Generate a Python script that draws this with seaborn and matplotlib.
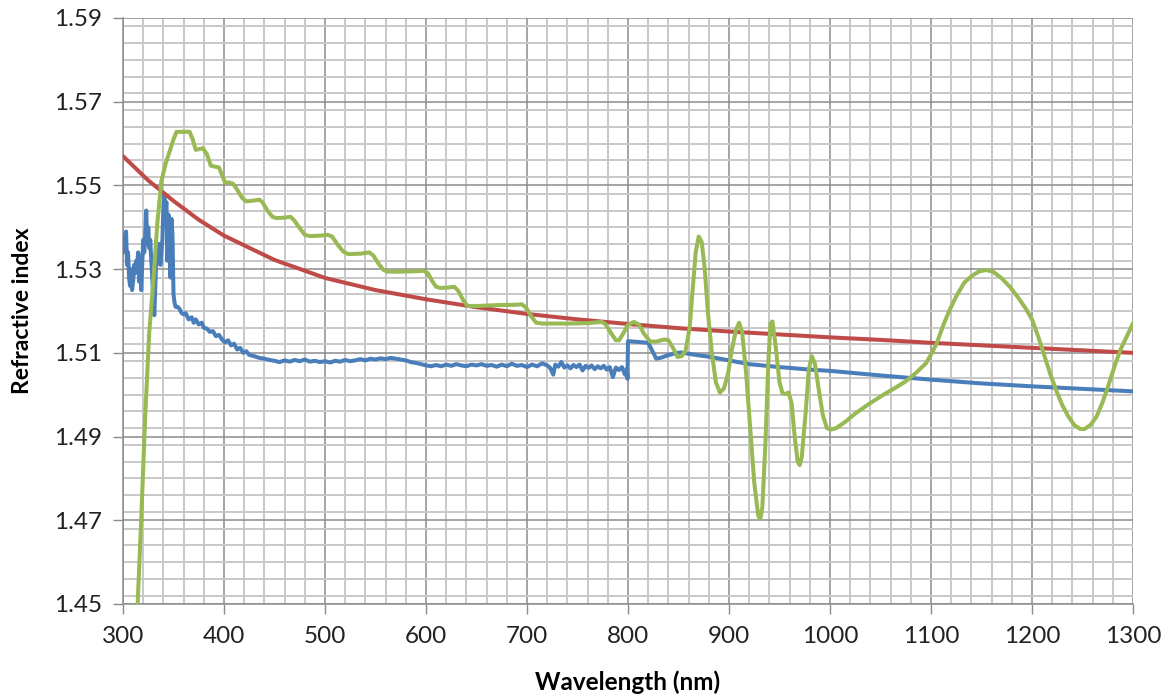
import numpy as np
import pandas as pd
import matplotlib
matplotlib.use("Agg")
import matplotlib.pyplot as plt
import seaborn as sns
from matplotlib.ticker import MultipleLocator

# ---------------- data ----------------
red_wl = [300, 325, 350, 375, 400, 450, 500, 550, 600, 650, 700, 750, 800,
          850, 900, 950, 1000, 1050, 1100, 1150, 1200, 1250, 1300]
red_n = [1.5570, 1.5512, 1.5463, 1.5418, 1.5380, 1.5322, 1.5279, 1.5250, 1.5228,
         1.5209, 1.5193, 1.5180, 1.5169, 1.5159, 1.5151, 1.5144, 1.5137, 1.5131,
         1.5124, 1.5118, 1.5112, 1.5106, 1.5100]

blue_wl = [300, 301, 302, 303, 304, 305, 306, 307, 308, 309, 310, 311, 312, 313, 314,
           315, 316, 317, 318, 319, 320, 321, 322, 323, 324, 325, 326, 327, 328, 329,
           330, 331, 332, 333, 334, 335, 336, 337, 338, 339, 340, 341, 342, 343, 344,
           345, 346, 347, 348, 349, 350, 351, 352, 354, 356, 358, 360,
           362, 365, 368, 370, 372, 375, 378, 380, 383, 386, 389, 392, 395, 398,
           401, 404, 407, 410, 413, 416, 419, 422, 425, 430, 435, 440, 445, 450,
           455, 460, 465, 470, 475, 480, 485, 490, 495, 500, 505, 510, 515, 520,
           525, 530, 535, 540, 545, 550, 555, 560, 565, 570, 575, 580, 585, 590,
           595, 600, 605, 610, 615, 620, 625, 630, 635, 640, 645, 650, 655, 660,
           665, 670, 675, 680, 685, 690, 695, 700, 705, 710, 715, 720, 723, 726,
           728, 731, 734, 737, 740, 743, 746, 749, 752, 755, 758, 761, 764, 767,
           770, 773, 776, 779, 782, 785, 788, 791, 794, 797, 799, 799.5, 800,
           805, 810, 815, 820, 824, 828, 832, 838, 845, 852, 860, 870, 880, 900,
           920, 950, 980, 1000, 1050, 1100, 1150, 1200, 1250, 1300]
blue_n = [1.534, 1.538, 1.535, 1.539, 1.531, 1.534, 1.528, 1.526, 1.530, 1.525,
          1.527, 1.531, 1.529, 1.532, 1.531, 1.534, 1.527, 1.533, 1.525, 1.531,
          1.537, 1.534, 1.538, 1.544, 1.536, 1.540, 1.535, 1.537, 1.532, 1.528,
          1.522, 1.519, 1.526, 1.533, 1.536, 1.533, 1.536, 1.531, 1.534, 1.537,
          1.545, 1.548, 1.544, 1.546, 1.532, 1.543, 1.540, 1.528, 1.542, 1.538,
          1.524, 1.522, 1.521, 1.521, 1.5205, 1.5195, 1.5192,
          1.5195, 1.5180, 1.5185, 1.5172, 1.5180, 1.5168, 1.5172, 1.5160, 1.5158,
          1.5150, 1.5152, 1.5140, 1.5143, 1.5132, 1.5125, 1.5130, 1.5118, 1.5122,
          1.5108, 1.5112, 1.5100, 1.5104, 1.5095, 1.5092, 1.5088, 1.5086, 1.5083,
          1.5081, 1.5078, 1.5082, 1.5079, 1.5083, 1.5080, 1.5084, 1.5079, 1.5081,
          1.5078, 1.5080, 1.5077, 1.5081, 1.5079, 1.5083, 1.5080, 1.5082, 1.5085,
          1.5082, 1.5086, 1.5084, 1.5087, 1.5085, 1.5088, 1.5086, 1.5084, 1.5082,
          1.5078, 1.5076, 1.5073, 1.5070, 1.5068, 1.5071, 1.5068, 1.5072, 1.5069,
          1.5073, 1.5070, 1.5068, 1.5072, 1.5070, 1.5073, 1.5069, 1.5071, 1.5067,
          1.5072, 1.5068, 1.5074, 1.5069, 1.5071, 1.5066, 1.5072, 1.5068, 1.5075,
          1.5070, 1.5064, 1.5048, 1.5072, 1.5067, 1.5078, 1.5065, 1.5070, 1.5063,
          1.5071, 1.5066, 1.5072, 1.5058, 1.5069, 1.5064, 1.5070, 1.5061, 1.5068,
          1.5063, 1.5069, 1.5060, 1.5066, 1.5042, 1.5065, 1.5059, 1.5066, 1.5048,
          1.5062, 1.5038, 1.5128, 1.5127, 1.5126, 1.5125, 1.5124, 1.5105, 1.5086,
          1.5088, 1.5093, 1.5098, 1.5101, 1.5098, 1.5094, 1.5091, 1.5082, 1.5073,
          1.5066, 1.5060, 1.5057, 1.5046, 1.5036, 1.5027, 1.5020, 1.5014, 1.5008]

green_wl = [314.5, 318, 322, 326, 330, 334, 338, 342, 346, 350, 353, 360, 366, 369,
            372, 376, 379, 383, 387, 391, 395, 398, 401, 405, 409, 413, 418, 422,
            430, 435, 438, 443, 448, 452, 460, 466, 470, 475, 480, 485, 495, 503,
            507, 512, 518, 523, 535, 544, 548, 553, 558, 562, 575, 590, 598, 602,
            606, 610, 614, 622, 628, 632, 637, 641, 650, 670, 690, 695, 699, 704,
            709, 715, 740, 760, 774, 778, 783, 788, 791, 795, 800, 806, 811, 816,
            822, 828, 836, 840, 845, 849, 853, 857, 861, 864, 867, 870, 873, 876,
            879, 883, 887, 891, 895, 899, 903, 907, 910, 913, 917, 921, 925, 929,
            931, 933, 936, 939, 941, 943, 946, 950, 953, 956, 959, 962, 965, 968,
            970, 972, 976, 979, 982, 985, 989, 993, 997, 1001, 1006, 1015, 1025,
            1035, 1045, 1055, 1065, 1075, 1085, 1095, 1101, 1106, 1112, 1118, 1125,
            1133, 1141, 1148, 1155, 1162, 1170, 1178, 1186, 1194, 1200, 1206, 1212,
            1218, 1224, 1230, 1236, 1242, 1248, 1252, 1258, 1264, 1270, 1276, 1282,
            1288, 1294, 1300]
green_n = [1.4500, 1.4700, 1.4950, 1.5150, 1.5270, 1.5410, 1.5510, 1.5550, 1.5580,
           1.5610, 1.5628, 1.5628, 1.5628, 1.5610, 1.5585, 1.5587, 1.5589, 1.5575,
           1.5547, 1.5545, 1.5543, 1.5525, 1.5507, 1.5507, 1.5504, 1.5490, 1.5470,
           1.5462, 1.5464, 1.5466, 1.5460, 1.5440, 1.5425, 1.5422, 1.5423, 1.5425,
           1.5415, 1.5398, 1.5382, 1.5379, 1.5380, 1.5382, 1.5378, 1.5360, 1.5342,
           1.5336, 1.5337, 1.5340, 1.5332, 1.5313, 1.5298, 1.5294, 1.5294, 1.5295,
           1.5296, 1.5290, 1.5272, 1.5258, 1.5255, 1.5256, 1.5258, 1.5248, 1.5225,
           1.5212, 1.5212, 1.5214, 1.5215, 1.5216, 1.5208, 1.5188, 1.5172, 1.5170,
           1.5170, 1.5171, 1.5174, 1.5168, 1.5148, 1.5130, 1.5130, 1.5145, 1.5167,
           1.5174, 1.5167, 1.5145, 1.5127, 1.5127, 1.5132, 1.5130, 1.5110, 1.5090,
           1.5092, 1.5105, 1.5160, 1.5250, 1.5340, 1.5378, 1.5365, 1.5300, 1.5200,
           1.5100, 1.5030, 1.5005, 1.5015, 1.5050, 1.5110, 1.5155, 1.5172, 1.5150,
           1.5050, 1.4920, 1.4790, 1.4710, 1.4703, 1.4730, 1.4880, 1.5080, 1.5170,
           1.5175, 1.5120, 1.5030, 1.5003, 1.5002, 1.5005, 1.4980, 1.4900, 1.4840,
           1.4832, 1.4850, 1.4960, 1.5060, 1.5092, 1.5075, 1.5010, 1.4950, 1.4920,
           1.4917, 1.4920, 1.4935, 1.4955, 1.4972, 1.4988, 1.5003, 1.5017, 1.5032,
           1.5052, 1.5075, 1.5100, 1.5125, 1.5165, 1.5200, 1.5235, 1.5268, 1.5285,
           1.5295, 1.5298, 1.5293, 1.5278, 1.5258, 1.5233, 1.5205, 1.5180, 1.5140,
           1.5095, 1.5050, 1.5010, 1.4975, 1.4948, 1.4927, 1.4918, 1.4918, 1.4928,
           1.4948, 1.4983, 1.5025, 1.5070, 1.5110, 1.5140, 1.5171]

x_ticks = [300, 400, 500, 600, 700, 800, 900, 1000, 1100, 1200, 1300]
y_ticks = [1.45, 1.47, 1.49, 1.51, 1.53, 1.55, 1.57, 1.59]

# ---------------- figure ----------------
sns.set_theme(style="white")
plt.rcParams['font.family'] = ['Lato', 'DejaVu Sans']

fig = plt.figure(figsize=(11.7, 6.98), dpi=100)
ax = fig.add_axes([123 / 1170, 1 - 604 / 698, 1010 / 1170, 586 / 698])

df_blue = pd.DataFrame({"wl": blue_wl, "n": blue_n})
df_red = pd.DataFrame({"wl": red_wl, "n": red_n})
df_green = pd.DataFrame({"wl": green_wl, "n": green_n})

lw = 2.9
sns.lineplot(data=df_blue, x="wl", y="n", ax=ax, color="#4A7EBB", lw=lw, sort=False, zorder=3)
sns.lineplot(data=df_red, x="wl", y="n", ax=ax, color="#BE4B48", lw=lw, sort=False, zorder=4)
sns.lineplot(data=df_green, x="wl", y="n", ax=ax, color="#98B954", lw=lw, sort=False, zorder=5)

ax.set_xlim(300, 1300)
ax.set_ylim(1.45, 1.59)
ax.set_xticks(x_ticks)
ax.set_yticks(y_ticks)
ax.set_xticklabels([str(t) for t in x_ticks])
ax.set_yticklabels([f"{t:.2f}" for t in y_ticks])
ax.xaxis.set_minor_locator(MultipleLocator(20))
ax.yaxis.set_minor_locator(MultipleLocator(0.004))

ax.grid(which="minor", color="#C8C8C8", lw=1.4, zorder=0)
ax.grid(which="major", color="#8C8C8C", lw=1.1, zorder=1)
ax.set_axisbelow(True)

for s in ["top", "right"]:
    ax.spines[s].set_visible(False)
for s in ["left", "bottom"]:
    ax.spines[s].set_color("#8C8C8C")
    ax.spines[s].set_linewidth(1.1)

ax.tick_params(axis="both", which="major", direction="out", length=7, width=1.0,
               color="#8C8C8C", labelsize=17.5, labelcolor="#222222",
               left=True, bottom=True)
ax.tick_params(axis="y", which="major", pad=8)
ax.tick_params(axis="x", which="major", pad=9)
ax.tick_params(axis="both", which="minor", length=0)

ax.set_xlabel("Wavelength (nm)", fontsize=17.5, fontweight="bold", color="black", labelpad=17)
ax.set_ylabel("Refractive index", fontsize=16.5, fontweight="bold", color="black", labelpad=15)

fig.savefig("out.png", dpi=100)
